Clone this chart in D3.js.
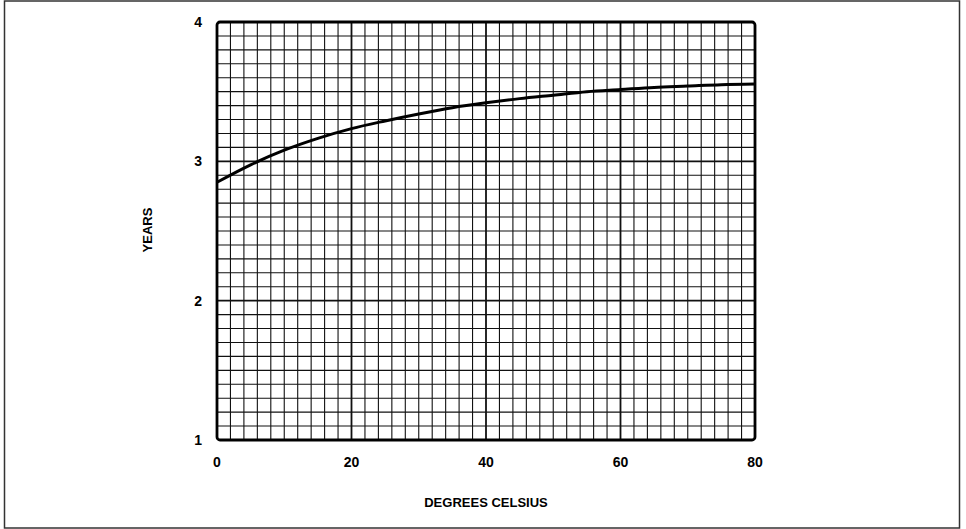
<!DOCTYPE html>
<html><head><meta charset="utf-8">
<script src="https://cdn.jsdelivr.net/npm/d3@7"></script>
<style>html,body{margin:0;padding:0;background:#fff;}svg{display:block;}</style>
</head><body>
<script>
const temps = [0,5,10,15,20,25,30,35,40,45,50,55,60,65,70,75,80];
const years = [2.85,2.975,3.08,3.165,3.235,3.29,3.34,3.385,3.42,3.45,3.475,3.50,3.515,3.53,3.54,3.55,3.555];
const xTicks = [0,20,40,60,80];
const yTicks = [1,2,3,4];
const xLabel = "DEGREES CELSIUS";
const yLabel = "YEARS";

const W=966,H=529;
const svg=d3.select("body").append("svg").attr("width",W).attr("height",H);
svg.append("rect").attr("x",4.5).attr("y",1).attr("width",955).attr("height",527)
  .attr("fill","none").attr("stroke","#333").attr("stroke-width",1.5);

const L=217,R=755,T=22,B=440;
const x=d3.scaleLinear().domain([0,80]).range([L,R]);
const y=d3.scaleLinear().domain([1,4]).range([B,T]);
const g=svg.append("g");
g.selectAll(".vx").data(d3.range(2,80,2)).join("line")
  .attr("x1",d=>x(d)).attr("x2",d=>x(d)).attr("y1",T).attr("y2",B)
  .attr("stroke","#111").attr("stroke-width",d=>d%20===0?1.8:1.1);
g.selectAll(".hy").data(d3.range(11,40).map(v=>v/10)).join("line")
  .attr("y1",d=>y(d)).attr("y2",d=>y(d)).attr("x1",L).attr("x2",R)
  .attr("stroke","#111").attr("stroke-width",d=>Math.abs(d-Math.round(d))<1e-6?1.8:1.1);
g.append("rect").attr("x",L).attr("y",T).attr("width",R-L).attr("height",B-T)
  .attr("rx",3).attr("fill","none").attr("stroke","#000").attr("stroke-width",2.8);
const line=d3.line().x((d,i)=>x(temps[i])).y(d=>y(d)).curve(d3.curveMonotoneX);
g.append("path").attr("d",line(years)).attr("fill","none").attr("stroke","#000").attr("stroke-width",3);

const font='"Liberation Sans", Arial, sans-serif';
svg.selectAll(".xt").data(xTicks).join("text").attr("x",d=>x(d)).attr("y",467)
  .attr("text-anchor","middle").attr("font-family",font).attr("font-weight","bold").attr("font-size",14)
  .text(d=>d);
svg.selectAll(".yt").data(yTicks).join("text").attr("x",202).attr("y",d=>y(d)+5)
  .attr("text-anchor","end").attr("font-family",font).attr("font-weight","bold").attr("font-size",14)
  .text(d=>d);
svg.append("text").attr("x",486).attr("y",507).attr("text-anchor","middle")
  .attr("font-family",font).attr("font-weight","bold").attr("font-size",13).text(xLabel);
svg.append("text").attr("transform","translate(152,230) rotate(-90)").attr("text-anchor","middle")
  .attr("font-family",font).attr("font-weight","bold").attr("font-size",13).text(yLabel);
</script>
</body></html>
